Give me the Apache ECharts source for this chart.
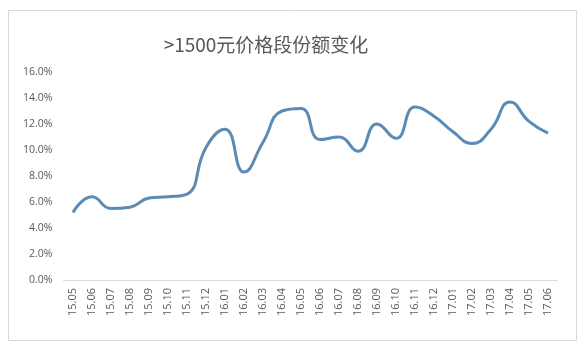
<!DOCTYPE html>
<html><head><meta charset="utf-8">
<script src="https://cdn.jsdelivr.net/npm/echarts@6/dist/echarts.min.js"></script>
<style>html,body{margin:0;padding:0;background:#fff}#c{width:585px;height:345px}</style>
</head><body><div id="c"></div>
<script>
const titleText = '>1500元价格段份额变化';
const categories = ['15.05','15.06','15.07','15.08','15.09','15.10','15.11','15.12','16.01','16.02','16.03','16.04','16.05','16.06','16.07','16.08','16.09','16.10','16.11','16.12','17.01','17.02','17.03','17.04','17.05','17.06'];
const shareValues = [5.2,6.4,5.5,5.6,6.3,6.4,6.6,10.2,11.6,8.3,10.6,13.0,13.2,10.8,11.0,9.9,12.0,10.9,13.3,12.6,11.4,10.5,11.6,13.7,12.2,11.3];
const yTicks = [0,2,4,6,8,10,12,14,16];

const chart = echarts.init(document.getElementById('c'));
chart.setOption({
  animation:false,
  backgroundColor:'#fff',
  graphic:[{type:'rect',shape:{x:8.5,y:10.5,width:568,height:330},style:{fill:'none',stroke:'#d9d9d9',lineWidth:1},silent:true}],
  title:{text:titleText,left:261,top:30,textAlign:'center',textStyle:{fontFamily:'Noto Sans CJK SC',fontSize:19,fontWeight:'normal',color:'#595959'}},
  grid:{left:63.5,right:27.5,top:72,bottom:65},
  xAxis:{type:'category',data:categories,boundaryGap:true,
    axisLine:{lineStyle:{color:'#d9d9d9'}},axisTick:{show:false},
    axisLabel:{rotate:90,interval:0,margin:8,fontSize:11,color:'#595959',fontFamily:'Open Sans'}},
  yAxis:{type:'value',min:yTicks[0],max:yTicks[yTicks.length-1],interval:2,
    axisLine:{show:false},axisTick:{show:false},splitLine:{show:false},
    axisLabel:{formatter:v=>v.toFixed(1)+'%',fontSize:10.5,color:'#595959',margin:11,fontFamily:'Open Sans'}},
  series:[{type:'line',data:shareValues,smooth:0.5,symbol:'none',
    lineStyle:{color:'#5b8bb5',width:3}}]
});
</script></body></html>
